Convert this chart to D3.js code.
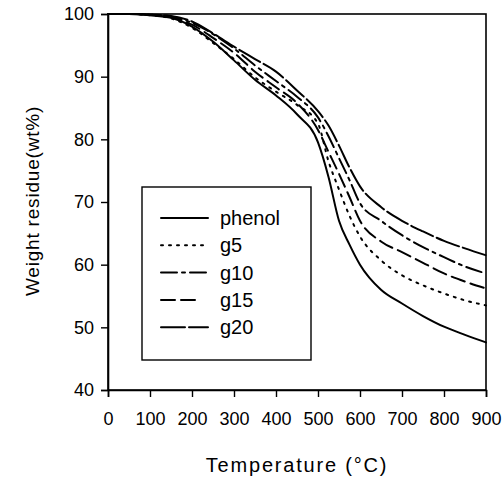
<!DOCTYPE html>
<html>
<head>
<meta charset="utf-8">
<script src="https://cdn.jsdelivr.net/npm/d3@7"></script>
<style>
  body { margin: 0; background: #fff; }
  svg { display: block; }
  text { font-family: "Liberation Sans", Arial, sans-serif; fill: #000; }
</style>
</head>
<body>
<svg id="chart" width="503" height="484"></svg>
<script>
const temps = [0, 50, 100, 150, 200, 250, 300, 350, 400, 450, 500, 525, 550, 575, 600, 650, 700, 750, 800, 850, 900];
const phenol = [100, 100, 99.8, 99.4, 98.0, 95.6, 92.6, 89.5, 87.0, 84.0, 79.5, 74.0, 67.0, 63.2, 60.0, 56.0, 53.8, 51.8, 50.1, 48.8, 47.6];
const g5 = [100, 100, 99.8, 99.3, 97.8, 95.4, 92.8, 89.9, 87.6, 85.5, 82.5, 76.5, 72.0, 67.8, 64.5, 60.7, 58.3, 56.7, 55.4, 54.3, 53.5];
const g10 = [100, 100, 99.9, 99.6, 98.6, 96.8, 94.5, 91.8, 89.3, 86.8, 83.5, 80.5, 77.0, 73.5, 69.8, 67.0, 64.7, 62.8, 61.2, 59.7, 58.6];
const g15 = [100, 100, 99.9, 99.5, 98.3, 96.2, 93.8, 90.8, 88.3, 85.8, 81.5, 78.0, 74.5, 70.8, 67.0, 63.7, 62.0, 60.3, 58.6, 57.3, 56.2];
const g20 = [100, 100, 99.9, 99.7, 98.8, 96.9, 94.8, 92.8, 90.8, 87.8, 84.5, 82.2, 79.0, 75.5, 72.5, 69.2, 67.0, 65.3, 63.8, 62.6, 61.5];
const seriesNames = ["phenol", "g5", "g10", "g15", "g20"];
const seriesValues = [phenol, g5, g10, g15, g20];
const xTicks = [0, 100, 200, 300, 400, 500, 600, 700, 800, 900];
const yTicks = [40, 50, 60, 70, 80, 90, 100];
const xTitle = "Temperature (\u00B0C)";
const yTitle = "Weight residue(wt%)";

const dashes = [null, "2,6", "16,5,3,5", "14,6", "24,4"];

const svg = d3.select("#chart");
const mLeft = 108, mRight = 486, mTop = 14, mBottom = 390;
const x = d3.scaleLinear().domain([0, 900]).range([mLeft, mRight]);
const y = d3.scaleLinear().domain([40, 100]).range([mBottom, mTop]);

// frame
svg.append("rect").attr("x", mLeft).attr("y", mTop)
  .attr("width", mRight - mLeft).attr("height", mBottom - mTop)
  .attr("fill", "none").attr("stroke", "#000").attr("stroke-width", 1.6);

const xAxis = svg.append("g").attr("transform", `translate(0,${mBottom})`)
  .call(d3.axisBottom(x).tickValues(xTicks).tickSize(7).tickPadding(15).tickFormat(d3.format("d")));
const yAxis = svg.append("g").attr("transform", `translate(${mLeft},0)`)
  .call(d3.axisLeft(y).tickValues(yTicks).tickSize(7).tickPadding(7).tickFormat(d3.format("d")));
[xAxis, yAxis].forEach(a => {
  a.select(".domain").attr("stroke", "#000").attr("stroke-width", 1.6);
  a.selectAll(".tick line").attr("stroke", "#000").attr("stroke-width", 1.4);
  a.selectAll(".tick text").style("font-size", "18px").attr("fill", "#000");
});

svg.append("text").attr("x", 297).attr("y", 472).attr("text-anchor", "middle")
  .style("font-size", "20px").style("letter-spacing", "1.8px").text(xTitle);
svg.append("text").attr("transform", "translate(39,201) rotate(-90)")
  .attr("text-anchor", "middle").style("font-size", "19px").style("letter-spacing", "0.8px").text(yTitle);

const line = d3.line().x((d, i) => x(temps[i])).y(d => y(d)).curve(d3.curveMonotoneX);
seriesValues.forEach((vals, k) => {
  svg.append("path").datum(vals).attr("d", line)
    .attr("fill", "none").attr("stroke", "#000").attr("stroke-width", 2)
    .attr("stroke-linecap", "round")
    .attr("stroke-dasharray", dashes[k]);
});

// legend
const lg = svg.append("g");
lg.append("rect").attr("x", 142).attr("y", 187).attr("width", 169).attr("height", 173)
  .attr("fill", "#fff").attr("stroke", "#000").attr("stroke-width", 1.4);
seriesNames.forEach((name, k) => {
  const yy = 218 + k * 27.3;
  lg.append("line").attr("x1", 161).attr("x2", k === 3 ? 201 : 208).attr("y1", yy).attr("y2", yy)
    .attr("stroke", "#000").attr("stroke-width", 2).attr("stroke-linecap", "round")
    .attr("stroke-dasharray", dashes[k]);
  lg.append("text").attr("x", 220).attr("y", yy).attr("dy", "0.35em")
    .style("font-size", "20px").text(name);
});
</script>
</body>
</html>
